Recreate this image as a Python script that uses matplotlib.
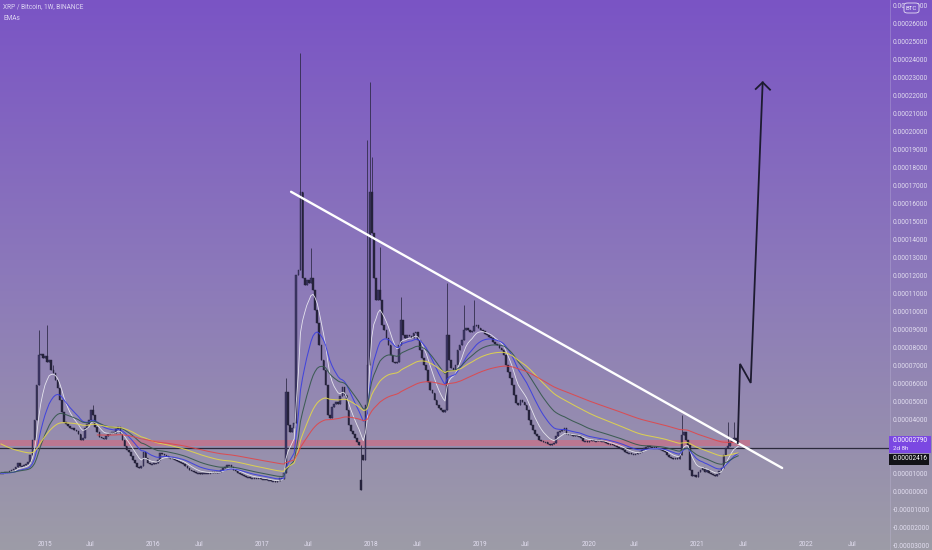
import numpy as np
import matplotlib
matplotlib.use("Agg")
import matplotlib.pyplot as plt
from matplotlib.patches import Rectangle, FancyBboxPatch

plt.rcParams['font.family'] = ['Roboto', 'DejaVu Sans']

# ---------------- data (prices in satoshi, 1 sat = 0.00000001 BTC) ----------------
closes = [
    1000, 1000, 1056, 1056, 1112, 1168, 1223, 1334, 1557, 1390,
    1390, 1446, 1501, 1612, 2002, 2836, 3948, 5894, 7562, 7617,
    7395, 7506, 7172, 7284, 6728, 6561, 6172, 5727, 5060, 4392,
    3836, 3725, 3614, 3503, 3503, 3392, 3336, 3169, 2836, 2947,
    3503, 3725, 3948, 4504, 4226, 3558, 3280, 3002, 2947, 2891,
    3058, 3169, 3225, 3280, 3225, 3447, 3558, 3225, 2836, 2502,
    2280, 2168, 1946, 1724, 1557, 1334, 1279, 1390, 2168, 1835,
    1557, 1501, 1501, 1557, 1557, 1724, 2113, 2057, 2002, 1946,
    1835, 1835, 1779, 1724, 1668, 1612, 1557, 1501, 1390, 1279,
    1168, 1112, 1056, 1001, 1001, 945, 1001, 1001, 1001, 1001,
    1001, 1056, 1001, 1056, 1056, 1168, 1279, 1334, 1446, 1446,
    1334, 1168, 1112, 1001, 945, 890, 834, 778, 778, 723,
    723, 723, 723, 723, 667, 667, 667, 612, 612, 556,
    556, 500, 556, 723, 667, 1001, 5504, 3670, 3280, 3503,
    3781, 12010, 12288, 16624, 11843, 11454, 11732, 11565, 11843, 11176,
    10064, 9341, 8118, 7284, 6728, 5894, 4226, 4059, 4670, 4837,
    4948, 4837, 5282, 5782, 5338, 4504, 3670, 3336, 3169, 2947,
    2724, 2558, 2002, 1724, 4782, 7006, 16624, 14345, 11843, 10620,
    11176, 10620, 9230, 8952, 8507, 8118, 7562, 7172, 7117, 7172,
    8118, 9508, 8674, 8507, 8674, 8618, 8507, 8785, 8840, 8396,
    7840, 7395, 7006, 6728, 6060, 5616, 5449, 5060, 4782, 4615,
    4504, 4392, 4504, 8674, 7284, 6839, 6728, 7006, 7840, 8118,
    8396, 8952, 9063, 8952, 8840, 8896, 9174, 9230, 9063, 8952,
    8896, 8729, 8674, 8562, 8507, 8284, 8173, 8118, 7951, 7840,
    7562, 7006, 6616, 6283, 5894, 5338, 4893, 4782, 5060, 4948,
    4782, 4504, 3948, 3670, 3392, 3169, 3058, 2836, 2780, 2724,
    2724, 2613, 2558, 2613, 2669, 3058, 3280, 3336, 3392, 3503,
    3169, 3169, 3114, 3058, 3114, 3058, 3058, 2947, 2780, 2780,
    2724, 2780, 2836, 2780, 2780, 2836, 2780, 2780, 2724, 2669,
    2613, 2613, 2558, 2502, 2446, 2391, 2335, 2280, 2168, 2113,
    2113, 2057, 2057, 2057, 2113, 2168, 2280, 2391, 2446, 2502,
    2446, 2391, 2446, 2391, 2335, 2280, 2224, 2168, 2002, 1890,
    1835, 1779, 1835, 1779, 2002, 3114, 3280, 2836, 2558, 1168,
    834, 890, 778, 1056, 1168, 1279, 1056, 1168, 1001, 945,
    890, 834, 945, 1112, 1279, 2002, 2391, 2502, 2724, 2836,
    2947, 2669, 2790,
]
upper_wicks = {18: 8950, 22: 9230, 25: 7010, 44: 4780, 136: 6280, 143: 24350,
               148: 13510, 175: 19520, 176: 22740, 177: 18570, 181: 13570,
               191: 10790, 213: 11570, 221: 10340, 226: 10620, 325: 4230,
               347: 3840, 350: 3840}
lower_wicks = {172: 60}

ema_lengths = [8, 17, 30, 55, 100]
ema_colors = ['#eeeef4', '#3a3ee0', '#34574b', '#e2d64a', '#e0474a']
ema_widths = [0.6, 0.75, 0.75, 0.75, 0.75]
ema_seeds = [1000, 1000, 1050, 2630, 3130]
ema_start = [0, 0, 0, 0, 46]

zone_low, zone_high = 2502, 2836
zone_weeks = [-0.5, 357.7]
level_price = 2416
trend_weeks = [138.5, 373.0]
trend_prices = [16641, 1295]
arrow_weeks = [351.8, 352.9, 358.0, 363.7]
arrow_prices = [2685, 7078, 6021, 22718]
head_weeks = [360.4, 363.7, 367.2]
head_prices = [22351, 22718, 22312]

tick_weeks = [20.8, 42.7, 72.8, 94.6, 124.7, 146.6, 176.7, 198.5,
              228.6, 250.5, 280.6, 302.4, 332.5, 354.4, 384.5, 406.3]
tick_labels = ['2015', 'Jul', '2016', 'Jul', '2017', 'Jul', '2018', 'Jul',
               '2019', 'Jul', '2020', 'Jul', '2021', 'Jul', '2022', 'Jul']
price_ticks = list(range(-3000, 28000, 1000))
hidden_price_ticks = [2000, 3000]   # covered by the price badges in the reference

# ---------------- figure ----------------
W, H = 932, 550
fig = plt.figure(figsize=(W / 100, H / 100), dpi=100)

def fx(px):
    return px / W

def fy(py):
    return 1 - py / H

# background gradient
bg = fig.add_axes([0, 0, 1, 1])
bg.axis('off')
t = np.linspace(0, 1, H)[:, None]
top = np.array([122, 84, 197]) / 255
mid = np.array([140, 121, 186]) / 255
bot = np.array([157, 156, 167]) / 255
col = np.where(t < 0.5, top + (mid - top) * (t / 0.5), mid + (bot - mid) * ((t - 0.5) / 0.5))
grad = np.repeat(col[:, None, :], 2, axis=1)
bg.imshow(grad, aspect='auto', extent=[0, 1, 0, 1], origin='upper', interpolation='bilinear')
bg.set_xlim(0, 1); bg.set_ylim(0, 1)

ax = fig.add_axes([0, 0, 890 / W, 1])
ax.patch.set_alpha(0)
ax.set_xlim(-0.478, 424.5)
ax.set_ylim(-3261, 27294)

c = np.array(closes, float)
o = np.r_[c[0], c[:-1]]
hi = np.maximum(o, c)
lo = np.minimum(o, c)
for k, v in upper_wicks.items():
    hi[k] = max(hi[k], v)
for k, v in lower_wicks.items():
    lo[k] = min(lo[k], v)
x = np.arange(len(c))
up = c >= o
diff = np.abs(c - o)
minh = 50
body_h = np.maximum(diff, minh)
body_b = np.where(diff < minh, (o + c) / 2 - minh / 2, lo)

# zone and level
ax.fill_between(zone_weeks, zone_low, zone_high, color='#f0586a', alpha=0.42, lw=0, zorder=1)
ax.axhline(level_price, color='#2b2a3c', lw=0.9, zorder=2)

ax.vlines(x, lo, hi, color='#2a2742', lw=0.55, zorder=3)
ax.bar(x[up], body_h[up], bottom=body_b[up], width=0.8, color='#3e3868',
       edgecolor='#26233e', lw=0.3, zorder=3)
ax.bar(x[~up], body_h[~up], bottom=body_b[~up], width=0.8, color='#25223b',
       edgecolor='#25223b', lw=0.3, zorder=3)

def ema(values, n, seed, start):
    a = 2.0 / (n + 1)
    out = np.full(len(values), np.nan)
    e = seed
    out[start] = e
    for i in range(start + 1, len(values)):
        e = a * values[i] + (1 - a) * e
        out[i] = e
    return out

for n, colr, lw, seed, st in zip(ema_lengths, ema_colors, ema_widths, ema_seeds, ema_start):
    ax.plot(x, ema(c, n, seed, st), color=colr, lw=lw, zorder=4, alpha=0.9)

ax.plot(trend_weeks, trend_prices, color='white', lw=1.7, zorder=5, solid_capstyle='round')
ax.plot(arrow_weeks, arrow_prices, color='#1d1b30', lw=1.3, zorder=6, solid_joinstyle='miter')
ax.plot(head_weeks, head_prices, color='#1d1b30', lw=1.3, zorder=6)

# axes styling
for s in ['top', 'left', 'bottom']:
    ax.spines[s].set_visible(False)
ax.spines['right'].set_color('#c8c0e0')
ax.spines['right'].set_alpha(0.35)
ax.spines['right'].set_linewidth(0.6)

ax.yaxis.tick_right()
ax.set_yticks(price_ticks)
ax.set_yticklabels(["" if v in hidden_price_ticks else f"{v * 1e-8:.8f}" for v in price_ticks])
ax.tick_params(axis='y', length=0, pad=2.2, labelsize=4.7, labelcolor='#e2def0')
ax.set_xticks(tick_weeks)
ax.set_xticklabels(tick_labels)
ax.tick_params(axis='x', length=0, pad=-6.2, labelsize=4.7, labelcolor='#e2def0')
for lab in ax.get_yticklabels():
    lab.set_horizontalalignment('left')

# header texts
fig.text(fx(3), fy(6.5), "XRP / Bitcoin, 1W, BINANCE", fontsize=4.7, color='#ddd5f2', va='center', ha='left')
fig.text(fx(3), fy(18), "EMAs", fontsize=4.7, color='#ddd5f2', va='center', ha='left')

# BTC badge
fig.patches.append(FancyBboxPatch((fx(904), fy(13)), fx(15), 10 / H,
                                  boxstyle='round,pad=0,rounding_size=0.004',
                                  transform=fig.transFigure, fc='#7a56c6', ec='#e6e0f4', lw=0.6, zorder=10))
fig.text(fx(911.5), fy(8), "BTC", fontsize=4.4, color='#f2eefa', va='center', ha='center', zorder=11)

# price labels
fig.patches.append(Rectangle((fx(889), fy(453)), fx(42), 17 / H, transform=fig.transFigure,
                             fc='#7b48e2', ec='none', zorder=10))
fig.text(fx(893), fy(440.5), "0.00002790", fontsize=4.7, color='white', va='center', ha='left', zorder=11)
fig.text(fx(893), fy(448.5), "2d 8h", fontsize=4.5, color='#efe8ff', va='center', ha='left', zorder=11)
fig.patches.append(Rectangle((fx(889), fy(464.5)), fx(40), 11 / H, transform=fig.transFigure,
                             fc='#121218', ec='none', zorder=10))
fig.text(fx(893), fy(459), "0.00002416", fontsize=4.7, color='white', va='center', ha='left', zorder=11)

fig.savefig("out.png", dpi=100)
